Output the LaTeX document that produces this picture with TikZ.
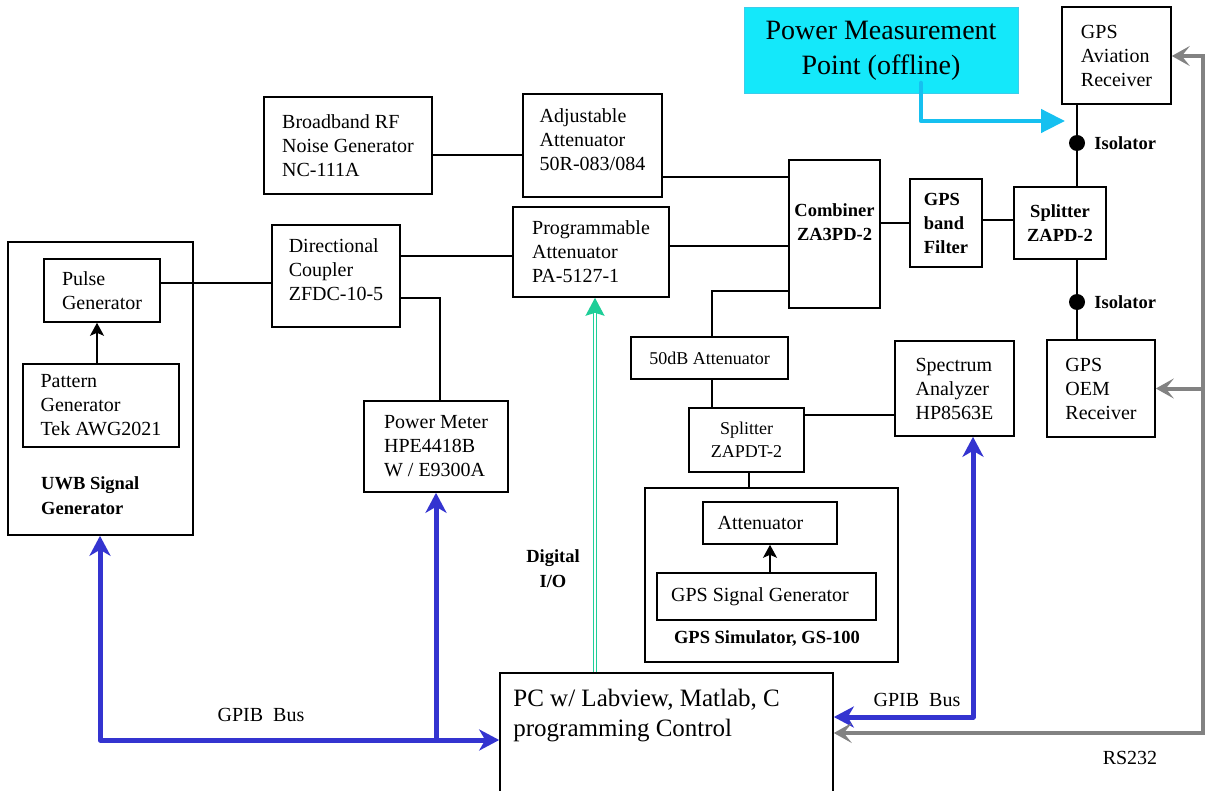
\documentclass[tikz,border=0pt]{standalone}
\usepackage{fontspec}
\setmainfont{Liberation Serif}
\usepackage{tikz}
\usetikzlibrary{positioning, calc, arrows.meta}

\definecolor{busblue}{RGB}{52,52,208}
\definecolor{rsgray}{RGB}{130,130,130}
\definecolor{dioGreen}{RGB}{30,206,152}
\definecolor{pmfill}{RGB}{20,232,250}
\definecolor{pmedge}{RGB}{60,205,235}
\definecolor{pmline}{RGB}{22,192,240}

\begin{document}
\begin{tikzpicture}[
    x=1pt, y=-1pt,
    sz/.style 2 args={minimum width=#1pt, minimum height=#2pt},
    blk/.style={draw, line width=1.6pt, align=left, inner sep=0pt, font=\fontsize{20}{24}\selectfont},
    blkb/.style={blk, align=center, font=\fontsize{18.5}{24}\selectfont\bfseries},
    blks/.style={blk, align=center, font=\fontsize{18}{23}\selectfont},
    lbl/.style={inner sep=0pt, align=center, font=\fontsize{20}{24}\selectfont},
    lblb/.style={inner sep=0pt, align=left, font=\fontsize{18.5}{25}\selectfont\bfseries},
    wire/.style={line width=1.4pt},
    sig/.style={wire, -{Stealth[length=13pt,width=14pt,inset=3pt]}},
    bustip/.tip={Stealth[length=20pt,width=21pt,inset=6pt]},
    rstip/.tip={Stealth[length=18pt,width=20pt,inset=8pt]},
    bus/.style={line width=5pt, draw=busblue, line join=round},
    rs/.style={line width=4pt, draw=rsgray},
    diotip/.style={draw=dioGreen, line width=1.4pt, -{Stealth[length=18pt,width=19pt,inset=3pt]}},
    dio/.style={draw=dioGreen, line width=1.4pt, double=white, double distance=1.4pt, shorten >=15pt},
    pm/.style={draw=pmline, line width=4.5pt, line join=round, line cap=round, -{Triangle[length=24pt,width=23pt]}},
    iso/.style={circle, fill, inner sep=0pt, minimum size=16pt}
]
    \useasboundingbox (0,0) rectangle (1206,791);

    \node[blk, sz={168}{97}] (noise) at (348,145.5) {Broadband RF\\Noise Generator\\NC-111A};
    \node[blk, sz={139}{103}] (adjatt) at (592.5,145.5) {Adjustable\\Attenuator\\50R-083/084\\[-12pt]\mbox{}};
    \node[blk, sz={156}{90}] (progatt) at (591,252) {Programmable\\Attenuator\\PA-5127-1};
    \node[blkb, sz={91}{148}] (comb) at (834.5,234) {Combiner\\ZA3PD-2\\\mbox{}};
    \node[blkb, align=left, sz={72}{88}] (filt) at (946,223) {GPS\\band\\Filter};
    \node[blkb, sz={92}{72}] (split) at (1060,223) {Splitter\\ZAPD-2};
    \node[blk, sz={109}{97}] (avrx) at (1116.5,55.5) {GPS\\Aviation\\Receiver};
    \node[blk, sz={108}{97}] (oemrx) at (1101,388.5) {GPS\\OEM\\Receiver};
    \node[draw=pmedge, fill=pmfill, line width=1pt, align=center, inner sep=0pt, sz={274}{86},
          font=\fontsize{28}{35}\selectfont] (pmp) at (881,51) {Power Measurement\\Point (offline)};

    \node[blk, sz={185}{293}] (uwb) at (100.5,388.5) {};
    \node[blk, sz={116}{63}] (pulse) at (102,290.5) {Pulse\\Generator};
    \node[blk, sz={156}{83}] (pattern) at (101,405.5) {Pattern\\Generator\\Tek AWG2021};
    \node[lblb, anchor=west] (uwblbl) at (41,495.5) {UWB Signal\\Generator};
    \node[blk, sz={128}{102}] (coupler) at (336,276) {Directional\\Coupler\\ZFDC-10-5\\[-12pt]\mbox{}};
    \node[blk, sz={144}{91}] (pmeter) at (436,446.5) {Power Meter\\HPE4418B\\W / E9300A};

    \node[blks, sz={157}{42}] (att50) at (709.5,358) {50dB Attenuator};
    \node[blks, sz={115}{64}] (splt2) at (746.5,440) {Splitter\\ZAPDT-2};
    \node[blk, sz={253}{174}] (sim) at (771.5,575) {};
    \node[blk, sz={134}{42}] (simatt) at (770,523) {Attenuator\hspace*{19pt}};
    \node[blk, sz={219}{47}] (siggen) at (766.5,596.5) {GPS Signal Generator\hspace*{13pt}};
    \node[lblb, align=center] (simlbl) at (767,639) {GPS Simulator, GS-100};
    \node[blk, sz={119}{95}] (specan) at (954.5,388.5) {Spectrum\\Analyzer\\HP8563E};

    \node[blk, sz={333}{122}] (pc) at (666.5,734) {};
    \node[inner sep=0pt, align=left, anchor=north west, font=\fontsize{25}{30}\selectfont] (pclbl)
        at ([xshift=14pt, yshift=-17pt]pc.north west) {PC w/ Labview, Matlab, C\\programming Control};

    \node[iso] (iso1) at (1077,143) {};
    \node[iso] (iso2) at (1077,302) {};
    \node[lblb, right=9pt of iso1] {Isolator};
    \node[lblb, right=9pt of iso2] {Isolator};

    \draw[wire] (noise.east |- 0,155) -- (adjatt.west |- 0,155);
    \draw[wire] (adjatt.east |- 0,177) -- (comb.west |- 0,177);
    \draw[wire] (progatt.east |- 0,246) -- (comb.west |- 0,246);
    \draw[wire] (coupler.east |- 0,256) -- (progatt.west |- 0,256);
    \draw[wire] (pulse.east |- 0,283) -- (coupler.west |- 0,283);
    \draw[wire] (coupler.east |- 0,298) -| ([xshift=4pt]pmeter.north);
    \draw[sig] (pattern.north -| 97,0) -- (pulse.south -| 97,0);
    \draw[wire] (comb.east |- filt.west) -- (filt.west);
    \draw[wire] (filt.east |- 0,220) -- (split.west |- 0,220);
    \draw[wire] (iso1 |- avrx.south) -- (iso1) -- (iso1 |- split.north);
    \draw[wire] (iso2 |- split.south) -- (iso2) -- (iso2 |- oemrx.north);
    \draw[wire] (comb.west |- 0,291) -| (att50.north -| 712,0);
    \draw[wire] (att50.south -| 712,0) -- (splt2.north -| 712,0);
    \draw[wire] (splt2.east |- 0,415) -- (specan.west |- 0,415);
    \draw[wire] (splt2.south -| 749,0) -- (sim.north -| 749,0);
    \draw[sig] (siggen.north -| simatt.south) -- (simatt.south);

    \coordinate (busl) at (100,740);
    \draw[bus, bustip-bustip] (uwb.south -| busl) -- (busl) -- (pc.west |- busl);
    \draw[bus, -bustip] (pmeter.south |- busl) -- (pmeter.south);
    \node[lbl] (gpibl) at (261,715) {GPIB~~Bus};

    \coordinate (busr) at (973,717);
    \draw[bus, bustip-bustip] (specan.south -| busr) -- (busr) -- (pc.east |- busr);
    \node[lbl] (gpibr) at (917,700) {GPIB~~Bus};

    \coordinate (rsr) at (1203,733);
    \draw[rs, rstip-rstip] (pc.east |- rsr) -- (rsr) -- (rsr |- 0,56) -- (avrx.east |- 0,56);
    \draw[rs, -rstip] (rsr |- oemrx.east) -- (oemrx.east);
    \node[lbl] (rslbl) at (1130,758) {RS232};

    \draw[diotip] (pc.north -| 595,0) -- (progatt.south -| 595,0);
    \draw[dio] (pc.north -| 595,0) -- (progatt.south -| 595,0);
    \node[lblb, align=center] (diolbl) at (553,569) {Digital\\I/O};

    \coordinate (pmfoot) at (921,83);
    \coordinate (pmtip) at (1065,121);
    \draw[pm] (pmfoot) |- (pmtip);
\end{tikzpicture}
\end{document}
